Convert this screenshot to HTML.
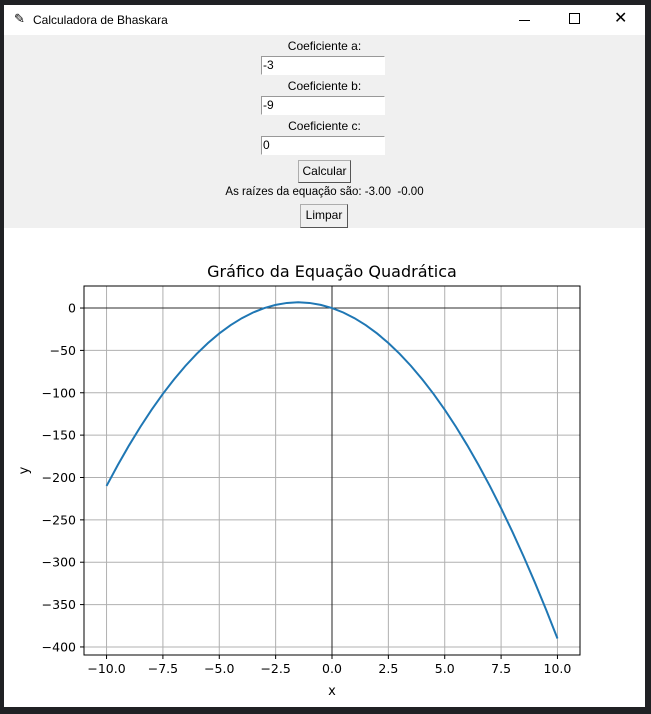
<!DOCTYPE html>
<html><head><meta charset="utf-8"><style>
body{margin:0;width:651px;height:714px;background:#202124;position:relative;overflow:hidden;font-family:"DejaVu Sans","Liberation Sans",sans-serif}
.win{position:absolute;left:4px;top:5px;width:641px;height:702px;background:#fff}
.title{position:absolute;left:0;top:0;width:641px;height:30px;background:#fff;font-size:12px;font-family:"Liberation Sans",sans-serif}
.top{position:absolute;left:0;top:30px;width:641px;height:193px;background:#f0f0f0;font-size:12px;text-align:center;font-family:"Liberation Sans",sans-serif}
.lbl{position:absolute;left:0;width:641px;text-align:center;color:#000}
.inp{position:absolute;left:257px;width:124px;height:19px;background:#fff;border:1px solid #999;border-right-color:#fff;border-bottom-color:#fff;box-sizing:border-box;font-size:12px;text-align:left;padding-left:1px;line-height:17px}
.btn{position:absolute;background:#f0f0f0;border:1px solid #adadad;border-right-color:#555;border-bottom-color:#555;box-sizing:border-box;font-size:12px;line-height:20px;text-align:center}
</style></head><body>
<div class="win">
<div class="title">
<span style="position:absolute;left:10px;top:6px;font-size:13px">✎</span>
<span style="position:absolute;left:29px;top:8px">Calculadora de Bhaskara</span>
<span style="position:absolute;left:515px;top:15px;width:11px;height:1px;background:#000"></span>
<span style="position:absolute;left:565px;top:8px;width:9px;height:9px;border:1px solid #000"></span>
<span style="position:absolute;left:610px;top:3px;font-size:16px">✕</span>
</div>
<div class="top">
<div class="lbl" style="top:4px">Coeficiente a:</div>
<div class="inp" style="top:21px">-3</div>
<div class="lbl" style="top:44px">Coeficiente b:</div>
<div class="inp" style="top:61px">-9</div>
<div class="lbl" style="top:84px">Coeficiente c:</div>
<div class="inp" style="top:101px">0</div>
<div class="btn" style="left:294px;top:125px;width:53px;height:23px">Calcular</div>
<div class="lbl" style="top:151px;font-size:11.5px">As raízes da equação são: -3.00 &nbsp;-0.00</div>
<div class="btn" style="left:296px;top:169px;width:48px;height:24px">Limpar</div>
</div>
</div>
<svg id="chart" style="position:absolute;left:0;top:0" width="651" height="714"></svg>
<script>
const xTicks=[-10,-7.5,-5,-2.5,0,2.5,5,7.5,10];
const xTickLabels=["\u221210.0","\u22127.5","\u22125.0","\u22122.5","0.0","2.5","5.0","7.5","10.0"];
const yTicks=[0,-50,-100,-150,-200,-250,-300,-350,-400];
const yTickLabels=["0","\u221250","\u2212100","\u2212150","\u2212200","\u2212250","\u2212300","\u2212350","\u2212400"];
const xVals=[-10,-9.5,-9,-8.5,-8,-7.5,-7,-6.5,-6,-5.5,-5,-4.5,-4,-3.5,-3,-2.5,-2,-1.5,-1,-0.5,0,0.5,1,1.5,2,2.5,3,3.5,4,4.5,5,5.5,6,6.5,7,7.5,8,8.5,9,9.5,10];
const yVals=[-210,-185.25,-162,-140.25,-120,-101.25,-84,-68.25,-54,-41.25,-30,-20.25,-12,-5.25,0,3.75,6,6.75,6,3.75,0,-5.25,-12,-20.25,-30,-41.25,-54,-68.25,-84,-101.25,-120,-140.25,-162,-185.25,-210,-236.25,-264,-293.25,-324,-356.25,-390];
const L=84,R=580,T=286,B=655;
const xmin=-11,xmax=11,ymin=-409.5,ymax=26;
const sx=v=>L+(v-xmin)/(xmax-xmin)*(R-L);
const sy=v=>B-(v-ymin)/(ymax-ymin)*(B-T);
const svg=document.getElementById('chart');
const NS='http://www.w3.org/2000/svg';
function mk(t,a){const e=document.createElementNS(NS,t);for(const k in a)e.setAttribute(k,a[k]);svg.appendChild(e);return e;}
const F='"DejaVu Sans","Liberation Sans",sans-serif';
let e;
xTicks.forEach((v,i)=>{
 e=mk('line',{x1:sx(v),x2:sx(v),y1:T,y2:B,stroke:'#b0b0b0','stroke-width':1});
 
 
 e=mk('line',{x1:sx(v),x2:sx(v),y1:B,y2:B+4,stroke:'#000','stroke-width':1});
 
 
 e=mk('text',{x:sx(v),y:B+18,'text-anchor':'middle','font-size':12.5,'font-family':F,fill:'#000'});e.textContent=xTickLabels[i];
 
 
});
yTicks.forEach((v,i)=>{
 e=mk('line',{x1:L,x2:R,y1:sy(v),y2:sy(v),stroke:'#b0b0b0','stroke-width':1});
 
 
 e=mk('line',{x1:L-4,x2:L,y1:sy(v),y2:sy(v),stroke:'#000','stroke-width':1});
 
 
 e=mk('text',{x:L-8,y:sy(v)+4.5,'text-anchor':'end','font-size':12.5,'font-family':F,fill:'#000'});e.textContent=yTickLabels[i];
 
 
});
e=mk('line',{x1:L,x2:R,y1:sy(0),y2:sy(0),stroke:'#000','stroke-width':0.8});


e=mk('line',{x1:sx(0),x2:sx(0),y1:T,y2:B,stroke:'#000','stroke-width':0.8});


e=mk('polyline',{points:xVals.map((x,i)=>sx(x)+','+sy(yVals[i])).join(' '),fill:'none',stroke:'#1f77b4','stroke-width':2});


e=mk('rect',{x:L,y:T,width:R-L,height:B-T,fill:'none',stroke:'#000','stroke-width':1});


e=mk('text',{x:(L+R)/2,y:277,'text-anchor':'middle','font-size':16,'font-family':F,fill:'#000'});e.textContent='Gráfico da Equação Quadrática';


e=mk('text',{x:(L+R)/2,y:695,'text-anchor':'middle','font-size':13,'font-family':F,fill:'#000'});e.textContent='x';


e=mk('text',{x:28,y:(T+B)/2,'text-anchor':'middle','font-size':13,'font-family':F,fill:'#000',transform:'rotate(-90 28 '+((T+B)/2)+')'});e.textContent='y';


</script>
</body></html>
